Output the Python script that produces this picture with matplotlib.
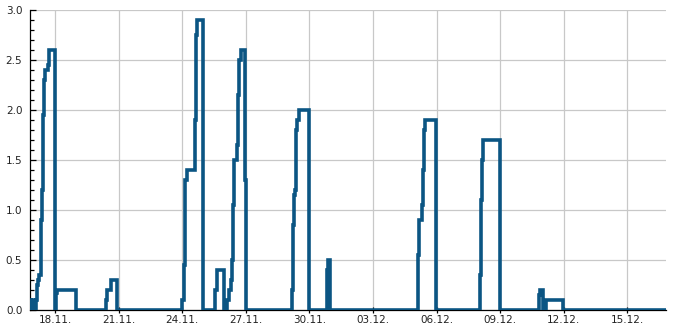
import matplotlib
matplotlib.use("Agg")
import matplotlib.pyplot as plt
import matplotlib.dates as mdates
from matplotlib.ticker import MultipleLocator
import pandas as pd

# readings (timestamp, value) - value holds until next timestamp
times = [
    "2023-11-16 19:30", "2023-11-16 21:00", "2023-11-16 23:00", "2023-11-17 00:30",
    "2023-11-17 02:00", "2023-11-17 03:30", "2023-11-17 05:00", "2023-11-17 06:00",
    "2023-11-17 07:30", "2023-11-17 09:00", "2023-11-17 10:00", "2023-11-17 11:00",
    "2023-11-17 12:30", "2023-11-17 15:30", "2023-11-17 17:00", "2023-11-17 23:30",
    "2023-11-18 01:00", "2023-11-18 02:00", "2023-11-19 00:00",
    "2023-11-20 09:30", "2023-11-20 11:00", "2023-11-20 15:00", "2023-11-20 22:30",
    "2023-11-24 00:00", "2023-11-24 02:00", "2023-11-24 03:30", "2023-11-24 05:00",
    "2023-11-24 14:00", "2023-11-24 15:00", "2023-11-24 17:00", "2023-11-24 23:00",
    "2023-11-25 13:00", "2023-11-25 15:00", "2023-11-25 23:30",
    "2023-11-26 03:00", "2023-11-26 05:00", "2023-11-26 07:00", "2023-11-26 08:30",
    "2023-11-26 09:30", "2023-11-26 11:00", "2023-11-26 13:30", "2023-11-26 15:30",
    "2023-11-26 16:30", "2023-11-26 18:00", "2023-11-26 23:00", "2023-11-27 00:30",
    "2023-11-29 04:30", "2023-11-29 05:30", "2023-11-29 07:00", "2023-11-29 07:30",
    "2023-11-29 08:30", "2023-11-29 10:00", "2023-11-29 12:30", "2023-11-30 00:00",
    "2023-11-30 19:30", "2023-11-30 21:00", "2023-11-30 23:00",
    "2023-12-05 02:30", "2023-12-05 04:00", "2023-12-05 07:00", "2023-12-05 08:00",
    "2023-12-05 09:30", "2023-12-05 11:00", "2023-12-05 23:00",
    "2023-12-08 01:00", "2023-12-08 02:00", "2023-12-08 03:30", "2023-12-08 05:00",
    "2023-12-09 00:00",
    "2023-12-10 20:00", "2023-12-10 21:00", "2023-12-11 00:00", "2023-12-11 03:30",
    "2023-12-11 23:30", "2023-12-16 19:30",
]
values = [
    0.1, 0.0, 0.1, 0.0,
    0.1, 0.25, 0.3, 0.35,
    0.9, 1.2, 1.95, 2.3,
    2.4, 2.45, 2.6, 0.0,
    0.17, 0.2, 0.0,
    0.1, 0.2, 0.3, 0.0,
    0.1, 0.45, 1.3, 1.4,
    1.9, 2.75, 2.9, 0.0,
    0.2, 0.4, 0.0,
    0.1, 0.2, 0.3, 0.5,
    1.05, 1.5, 1.65, 2.15,
    2.5, 2.6, 1.3, 0.0,
    0.2, 0.85, 1.15, 1.2,
    1.8, 1.9, 2.0, 0.0,
    0.4, 0.5, 0.0,
    0.55, 0.9, 1.05, 1.4,
    1.8, 1.9, 0.0,
    0.35, 1.1, 1.5, 1.7,
    0.0,
    0.15, 0.2, 0.0, 0.1,
    0.0, 0.0,
]

tick_days = pd.date_range("2023-11-18", "2023-12-15", freq="3D")
x_start = pd.Timestamp("2023-11-16 19:30")
x_end = pd.Timestamp("2023-12-16 19:45")

t = pd.to_datetime(times)

fig = plt.figure(figsize=(6.85, 3.3), dpi=100)
ax = fig.add_axes([30 / 685, 1 - 310 / 330, 636 / 685, 300 / 330])

ax.plot(t, values, drawstyle="steps-post", color="#0b5583", linewidth=2.6,
        solid_joinstyle="miter", solid_capstyle="butt", zorder=3)

ax.set_xlim(x_start, x_end)
ax.set_ylim(0, 3.0)

ax.set_xticks(tick_days)
ax.xaxis.set_major_formatter(mdates.DateFormatter("%d.%m."))
ax.yaxis.set_major_locator(MultipleLocator(0.5))
ax.yaxis.set_minor_locator(MultipleLocator(0.1))
ax.yaxis.set_major_formatter(plt.FormatStrFormatter("%.1f"))

ax.grid(True, which="major", color="#c8c8c8", linewidth=0.9)
ax.set_axisbelow(True)

for s in ["top", "right"]:
    ax.spines[s].set_visible(False)
for s in ["left", "bottom"]:
    ax.spines[s].set_color("black")
    ax.spines[s].set_linewidth(0.9)

ax.tick_params(axis="y", which="major", direction="in", length=4.3, width=0.9,
               labelsize=7.5, pad=5.5, colors="black", labelcolor="#222222")
ax.tick_params(axis="y", which="minor", direction="in", length=2.9, width=0.9)
ax.tick_params(axis="x", which="major", direction="inout", length=4.5, width=0.9,
               labelsize=7.5, pad=1.5, labelcolor="#222222")

fig.savefig("out.png", dpi=100)
